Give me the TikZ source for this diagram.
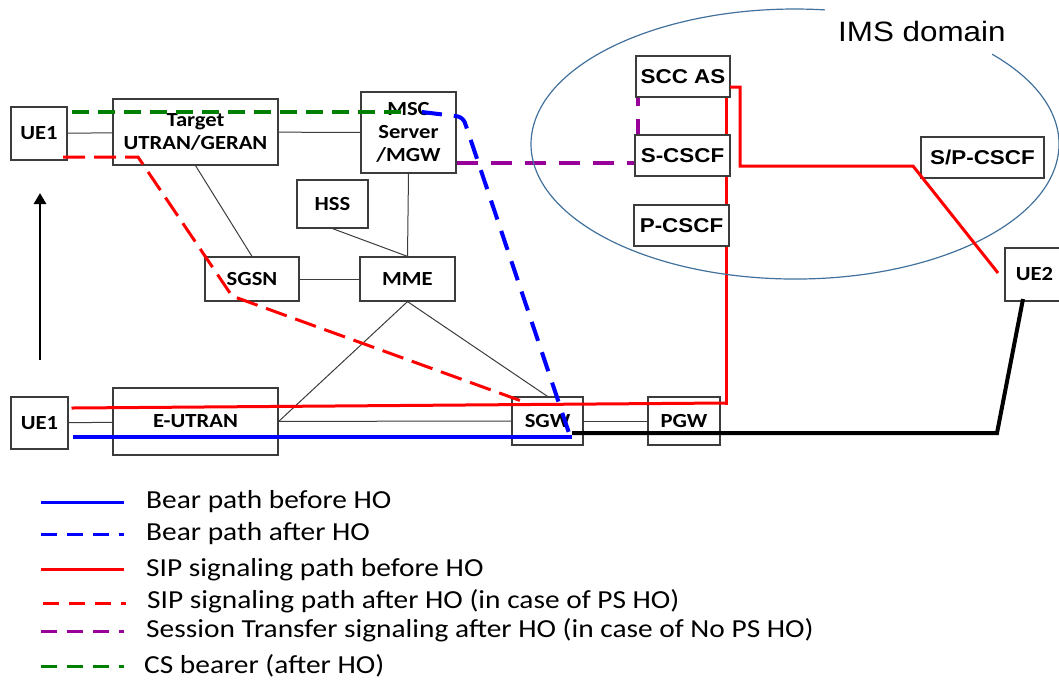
\documentclass[tikz,border=0pt]{standalone}
\usepackage{fontspec}
\setmainfont{Carlito}[FakeStretch=1.13]
\newfontfamily\arialf{Liberation Sans}[FakeStretch=1.12]
\usetikzlibrary{arrows.meta,backgrounds}
\definecolor{imsblue}{RGB}{65,113,156}
\definecolor{pgreen}{RGB}{0,128,0}
\definecolor{ppurple}{RGB}{153,0,153}
\definecolor{boxgray}{RGB}{60,60,60}
\begin{document}
\begin{tikzpicture}[x=1pt,y=-1pt,
  box/.style={draw=boxgray,line width=1.2pt,fill=white,inner sep=0pt,align=center,
    font=\fontsize{20}{23}\selectfont\bfseries},
  abox/.style={box,font=\arialf\fontsize{20}{23}\selectfont\bfseries},
  conn/.style={draw=boxgray,line width=1pt},
  bearb/.style={draw=blue,line width=4pt},
  beara/.style={draw=blue,line width=4pt,dash pattern=on 20pt off 12pt},
  sipb/.style={draw=red,line width=3pt,line cap=rect},
  sipa/.style={draw=red,line width=3pt,dash pattern=on 22pt off 9pt},
  stp/.style={draw=ppurple,line width=3.5pt,dash pattern=on 21pt off 13pt},
  csb/.style={draw=pgreen,line width=3.3pt,dash pattern=on 17pt off 9pt},
  legtext/.style={anchor=base west,inner sep=0pt,font=\fontsize{26}{28}\selectfont},
]
\useasboundingbox (0,0) rectangle (1059,680);

% IMS domain ellipse (open at the label)
\draw[imsblue,line width=1.2pt] (824.9,9.9) arc[start angle=83.5,end angle=401.7,x radius=264pt,y radius=135pt];
\node[anchor=base west,inner sep=0pt,font=\arialf\fontsize{28}{30}\selectfont] (ims) at (838,41) {IMS domain};

% boxes
\node[box,minimum width=56pt,minimum height=53pt] (UE1a) at (39,133.5) {UE1};
\node[box,minimum width=165pt,minimum height=66pt] (Target) at (195.5,132) {Target\\UTRAN/GERAN};
\node[box,minimum width=95pt,minimum height=81pt] (MSC) at (408.5,132.5) {MSC\\Server\\/MGW};
\node[box,minimum width=71pt,minimum height=48pt] (HSS) at (332.5,204) {HSS};
\node[box,minimum width=94pt,minimum height=44pt] (SGSN) at (252,279) {SGSN};
\node[box,minimum width=95pt,minimum height=44pt] (MME) at (407.5,279) {MME};
\node[box,minimum width=57pt,minimum height=52pt] (UE1b) at (39.5,423) {UE1};
\node[box,minimum width=165pt,minimum height=67pt] (EUTRAN) at (195.5,421.5) {E-UTRAN};
\node[box,minimum width=71pt,minimum height=48pt] (SGW) at (547.5,421) {SGW};
\node[box,minimum width=72pt,minimum height=48pt] (PGW) at (684,421) {PGW};
\node[box,minimum width=59pt,minimum height=53pt] (UE2) at (1034.5,274.5) {UE2};
\node[abox,minimum width=94pt,minimum height=41pt] (SCCAS) at (683,76.5) {SCC AS};
\node[abox,minimum width=95pt,minimum height=41pt] (SCSCF) at (682.5,155.5) {S-CSCF};
\node[abox,minimum width=95pt,minimum height=41pt] (PCSCF) at (681.5,225.5) {P-CSCF};
\node[abox,minimum width=123pt,minimum height=41pt] (SPCSCF) at (982.5,157.5) {S/P-CSCF};

\coordinate (rsC) at (726,403);
\coordinate (stC) at (638,163);

\begin{pgfonlayer}{background}
  \draw[conn] (UE1a) -- (Target);
  \draw[conn] (Target) -- (MSC);
  \draw[conn] (Target.south) -- (SGSN.north);
  \draw[conn] (MSC.south) -- (MME.north);
  \draw[conn] (HSS.south) -- (MME.north);
  \draw[conn] (SGSN) -- (MME);
  \draw[conn] (MME.south) -- (EUTRAN.east);
  \draw[conn] (MME.south) -- (SGW.north);
  \draw[conn] (UE1b) -- (EUTRAN);
  \draw[conn] (EUTRAN) -- (SGW);
  \draw[conn] (SGW) -- (PGW);
  % paths hidden behind the IMS boxes
  \draw[sipb] (rsC) -- (rsC |- SCCAS.south);
  \draw[stp] (MSC.east |- stC) -- (stC) -- (stC |- SCCAS.south);
\end{pgfonlayer}

% coloured paths
\coordinate (rsA) at (73,408);
\draw[sipb] (rsA) -- (rsC);
\coordinate (r2a) at (730,87);
\coordinate (r2e) at (998,273);
\draw[sipb,line cap=butt] (r2a) -- (740,87) -- (740,166) -- (913,166) -- (r2e);
\coordinate (sa0) at (63,157);
\coordinate (sa3) at (527,403);
\draw[sipa] (sa0) -- (138,157) -- (232,296) -- (sa3);
\coordinate (cs0) at (72,112);
\coordinate (cs1) at (410,112);
\draw[csb] (cs0) -- (cs1);
\coordinate (ba0) at (422,112);
\coordinate (ba1) at (572,442);
\draw[beara,rounded corners=6pt] (ba0) -- (463,117) -- (ba1);
\coordinate (bb0) at (73,437);
\coordinate (bb1) at (572,437);
\draw[bearb] (bb0) -- (bb1);
\coordinate (bk0) at (572,433);
\coordinate (bk1) at (1023,299);
\draw[line width=4pt] (bk0) -- (997,433) -- (bk1);

% handover arrow
\coordinate (ar0) at (40,360);
\coordinate (ar1) at (40,193);
\draw[line width=2.8pt,-{Triangle[width=12pt,length=11pt]}] (ar0) -- (ar1);

% legend
\draw[bearb,line width=3pt] (41,502) -- (124,502);
\draw[beara,line width=3pt,dash pattern=on 16pt off 10pt] (41,534) -- (124,534);
\draw[sipb,line width=3pt,line cap=butt] (41,569) -- (124,569);
\draw[sipa,line width=3pt,dash pattern=on 16pt off 10pt] (43,603) -- (126,603);
\draw[stp,line width=3pt,dash pattern=on 16pt off 10pt] (41,631) -- (124,631);
\draw[csb,line width=3pt,dash pattern=on 16pt off 10pt] (41,666) -- (124,666);
\node[legtext] (L1) at (146,508) {Bear path before HO};
\node[legtext] (L2) at (146,540) {Bear path after HO};
\node[legtext] (L3) at (146,576) {SIP signaling path before HO};
\node[legtext] (L4) at (147,608) {SIP signaling path after HO (in case of PS HO)};
\node[legtext] (L5) at (146,637) {Session Transfer signaling after HO (in case of No PS HO)};
\node[legtext] (L6) at (144,673) {CS bearer (after HO)};
\end{tikzpicture}
\end{document}
